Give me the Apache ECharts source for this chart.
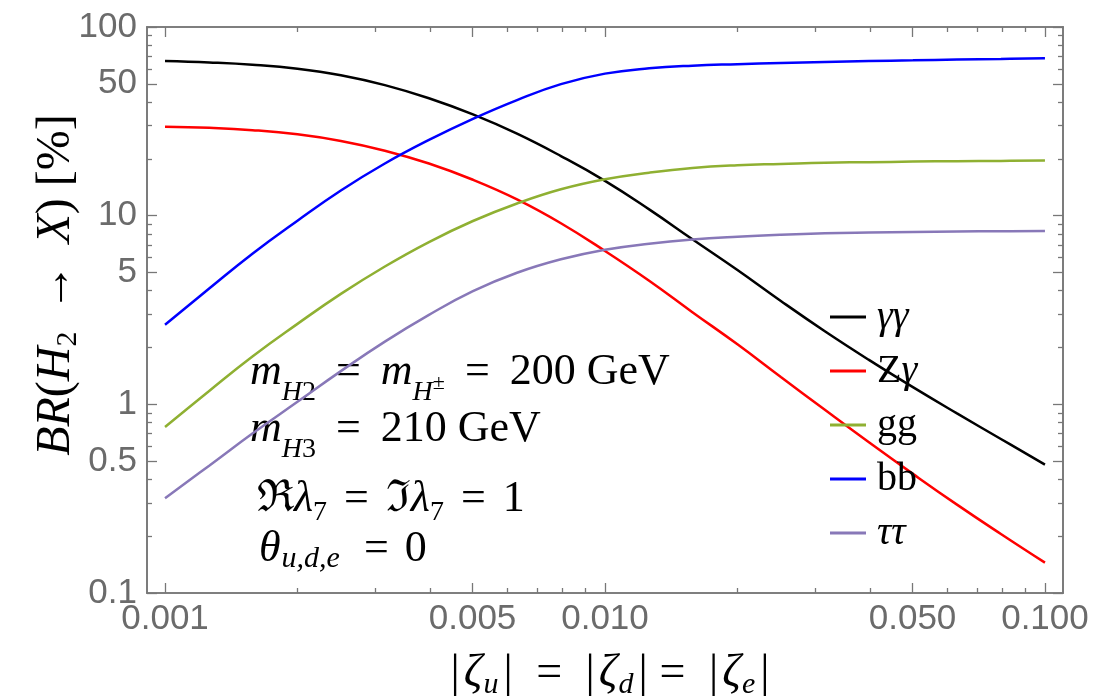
<!DOCTYPE html>
<html><head><meta charset="utf-8">
<script src="https://cdn.jsdelivr.net/npm/echarts@6/dist/echarts.min.js"></script>
<style>html,body{margin:0;padding:0;background:#fff}#c{width:1107px;height:700px}</style>
</head><body><div id="c"></div>
<script>
// ---- data ----
const xValues = [0.001, 0.00126, 0.00158, 0.002, 0.00251, 0.00316, 0.00398, 0.00501, 0.00631, 0.00794,
                 0.01, 0.0126, 0.0158, 0.02, 0.0251, 0.0316, 0.0398, 0.0501, 0.0631, 0.0794, 0.1];
const brGammaGamma = [66.1, 64.9, 63.1, 60.1, 55.5, 49.2, 41.9, 34.4, 27.2, 20.7,
                      15.3, 10.8, 7.50, 5.15, 3.53, 2.44, 1.72, 1.233, 0.895, 0.655, 0.479];
const brZGamma = [29.6, 29.2, 28.4, 27.0, 24.9, 22.1, 18.9, 15.5, 12.2, 9.12,
                  6.50, 4.52, 3.08, 2.08, 1.396, 0.935, 0.629, 0.428, 0.294, 0.2055, 0.1448];
const brGG = [0.759, 1.178, 1.794, 2.67, 3.85, 5.38, 7.25, 9.37, 11.6, 13.8,
              15.6, 16.9, 17.9, 18.5, 18.8, 19.1, 19.2, 19.35, 19.45, 19.5, 19.6];
const brBB = [2.64, 4.11, 6.29, 9.41, 13.6, 18.9, 25.2, 32.6, 41.0, 49.8,
              56.6, 60.4, 62.4, 63.5, 64.4, 65.2, 66.0, 66.6, 67.2, 67.7, 68.3];
const brTauTau = [0.318, 0.473, 0.700, 1.031, 1.50, 2.15, 2.98, 3.98, 4.98, 5.87,
                  6.60, 7.10, 7.47, 7.73, 7.92, 8.06, 8.14, 8.20, 8.24, 8.27, 8.30];
const seriesNames = ['γγ', 'Zγ', 'gg', 'bb', 'ττ'];

const xMajorTicks = [0.001, 0.005, 0.01, 0.05, 0.1];
const xMajorLabels = ['0.001', '0.005', '0.010', '0.050', '0.100'];
const xMinorTicks = [0.002, 0.003, 0.004, 0.006, 0.007, 0.008, 0.009, 0.02, 0.03, 0.04, 0.06, 0.07, 0.08, 0.09];
const yMajorTicks = [0.1, 0.5, 1, 5, 10, 50, 100];
const yMajorLabels = ['0.1', '0.5', '1', '5', '10', '50', '100'];
const yMinorTicks = [0.2, 0.3, 0.4, 0.6, 0.7, 0.8, 0.9, 2, 3, 4, 6, 7, 8, 9, 20, 30, 40, 60, 70, 80, 90];

// ---- styles ----
const seriesColors = ['#000000', '#ff0000', '#8fb032', '#0000ff', '#8878b8'];
const frameColor = '#777777';
const labelColor = '#6b6b6b';
const X_MIN = 0.00091, X_MAX = 0.1099, Y_MIN = 0.1, Y_MAX = 100;
const serif = 'Liberation Serif';

function labelFor(ticks, labels) {
  return function (v) {
    let best = 0, bd = Infinity;
    ticks.forEach((t, i) => { const d = Math.abs(Math.log10(t) - Math.log10(v)); if (d < bd) { bd = d; best = i; } });
    return labels[best];
  };
}

function mkAxis(dim, pos, ticks, len, labels) {
  const isX = dim === 'x';
  const ax = {
    type: 'log', logBase: 10, position: pos,
    min: isX ? X_MIN : Y_MIN, max: isX ? X_MAX : Y_MAX,
    axisLine: { show: true, onZero: false, lineStyle: { color: frameColor, width: 1.6 } },
    axisTick: { show: true, inside: true, length: len, customValues: ticks, lineStyle: { color: frameColor, width: 1.3 } },
    minorTick: { show: false },
    splitLine: { show: false },
    axisPointer: { show: false },
    axisLabel: { show: false }
  };
  if (labels) {
    ax.axisLabel = {
      show: true, customValues: ticks, formatter: labelFor(ticks, labels),
      color: labelColor, fontSize: 35, fontFamily: 'Liberation Sans',
      margin: isX ? 9 : 10, hideOverlap: false, showMinLabel: true, showMaxLabel: true
    };
  }
  return ax;
}

const seriesData = [brGammaGamma, brZGamma, brGG, brBB, brTauTau];

const legendRich = { 'γγ': '{i|γγ}', 'Zγ': '{r|Z}{i|γ}', 'gg': '{r|gg}', 'bb': '{r|bb}', 'ττ': '{i|ττ}' };

function tok(size, italic, pad) {
  const t = { fontSize: size, fontFamily: serif, fontStyle: italic ? 'italic' : 'normal', fill: '#000', lineHeight: size };
  if (pad) t.padding = pad;
  return t;
}
const annRich = {
  i: tok(44, true), r: tok(44, false),
  eq: tok(44, false, [0, 20, 0, 20]),
  eq3: tok(44, false, [0, 17, 0, 17]),
  eq4: tok(44, false, [0, 16, 0, 16]),
  sub40: tok(28, true, [40, 0, 0, 0]), subr40: tok(28, false, [40, 0, 0, 0]),
  sup21: tok(22, false, [21, 0, 0, 0]),
  subr26: tok(28, false, [26, 0, 0, 0]),
  sub19: tok(30, true, [19, 8, 0, 1])
};
const xTitleRich = {
  bar: tok(46, false, [0, 4, 0, 4]), z: tok(46, true),
  sub: tok(30, true, [22, 1, 0, 1]),
  eq: tok(46, false, [0, 8, 0, 8])
};
const yTitleRich = {
  i: tok(48, true), r: tok(48, false),
  sub: tok(30, false, [24, 0, 0, 0]),
  arr: tok(48, false, [0, 8, 0, 8])
};

function txt(x, y, text, rich) {
  return {
    type: 'text', x: x, y: y, silent: true,
    style: { text: text, fill: '#000', fontSize: 44, fontFamily: serif, align: 'left', verticalAlign: 'middle', rich: rich }
  };
}

const option = {
  backgroundColor: '#ffffff',
  animation: false,
  grid: { left: 147, right: 44, top: 27, bottom: 107, containLabel: false, outerBoundsMode: 'none' },
  xAxis: [
    mkAxis('x', 'bottom', xMajorTicks, 10, xMajorLabels),
    mkAxis('x', 'bottom', xMinorTicks, 5),
    mkAxis('x', 'top', xMajorTicks, 10),
    mkAxis('x', 'top', xMinorTicks, 5)
  ],
  yAxis: [
    mkAxis('y', 'left', yMajorTicks, 10, yMajorLabels),
    mkAxis('y', 'left', yMinorTicks, 5),
    mkAxis('y', 'right', yMajorTicks, 10),
    mkAxis('y', 'right', yMinorTicks, 5)
  ],
  legend: {
    orient: 'vertical', left: 830, top: 290, padding: 0, itemWidth: 36, itemHeight: 3, itemGap: 0, icon: 'rect',
    data: seriesNames, selectedMode: false,
    formatter: function (n) { return legendRich[n]; },
    textStyle: {
      color: '#000', fontFamily: serif, fontSize: 40, lineHeight: 54, padding: [0, 0, 0, 6],
      rich: {
        i: { fontStyle: 'italic', fontFamily: serif, fontSize: 40, lineHeight: 54, color: '#000' },
        r: { fontStyle: 'normal', fontFamily: serif, fontSize: 40, lineHeight: 54, color: '#000' }
      }
    }
  },
  series: seriesNames.map((name, k) => ({
    name: name, type: 'line', xAxisIndex: 0, yAxisIndex: 0,
    data: xValues.map((x, i) => [x, seriesData[k][i]]),
    showSymbol: false, symbol: 'none', smooth: 0.45, clip: true,
    lineStyle: { color: seriesColors[k], width: 2.5 },
    itemStyle: { color: seriesColors[k] },
    emphasis: { disabled: true }
  })),
  graphic: [
    txt(250, 372.6, '{i|m}{sub40|H}{subr40|2}{eq|=}{i|m}{sub40|H}{sup21|±}{eq|=}{r|200 GeV}', annRich),
    txt(250, 429.6, '{i|m}{sub40|H}{subr40|3}{eq|=}{r|210 GeV}', annRich),
    txt(257, 499.6, '{r|ℜ}{i|λ}{subr26|7}{eq3|=}{r|ℑ}{i|λ}{subr26|7}{eq3|=}{r|1}', annRich),
    txt(259, 549.6, '{i|θ}{sub19|u,d,e}{eq4|=}{r|0}', annRich),
    {
      type: 'text', x: 610, y: 674, silent: true,
      style: {
        text: '{bar||}{z|ζ}{sub|u}{bar||}{eq| = }{bar||}{z|ζ}{sub|d}{bar||}{eq|= }{bar||}{z|ζ}{sub|e}{bar||}',
        fill: '#000', align: 'center', verticalAlign: 'middle', rich: xTitleRich
      }
    },
    {
      type: 'text', x: 56, y: 285, rotation: Math.PI / 2, silent: true,
      style: {
        text: '{i|BR}{r|(}{i|H}{sub|2}{arr| → }{i|X}{r|) [%]}',
        fill: '#000', align: 'center', verticalAlign: 'middle', rich: yTitleRich
      }
    }
  ]
};

const chart = echarts.init(document.getElementById('c'), null, { renderer: 'canvas' });
chart.setOption(option);
</script>
</body></html>
